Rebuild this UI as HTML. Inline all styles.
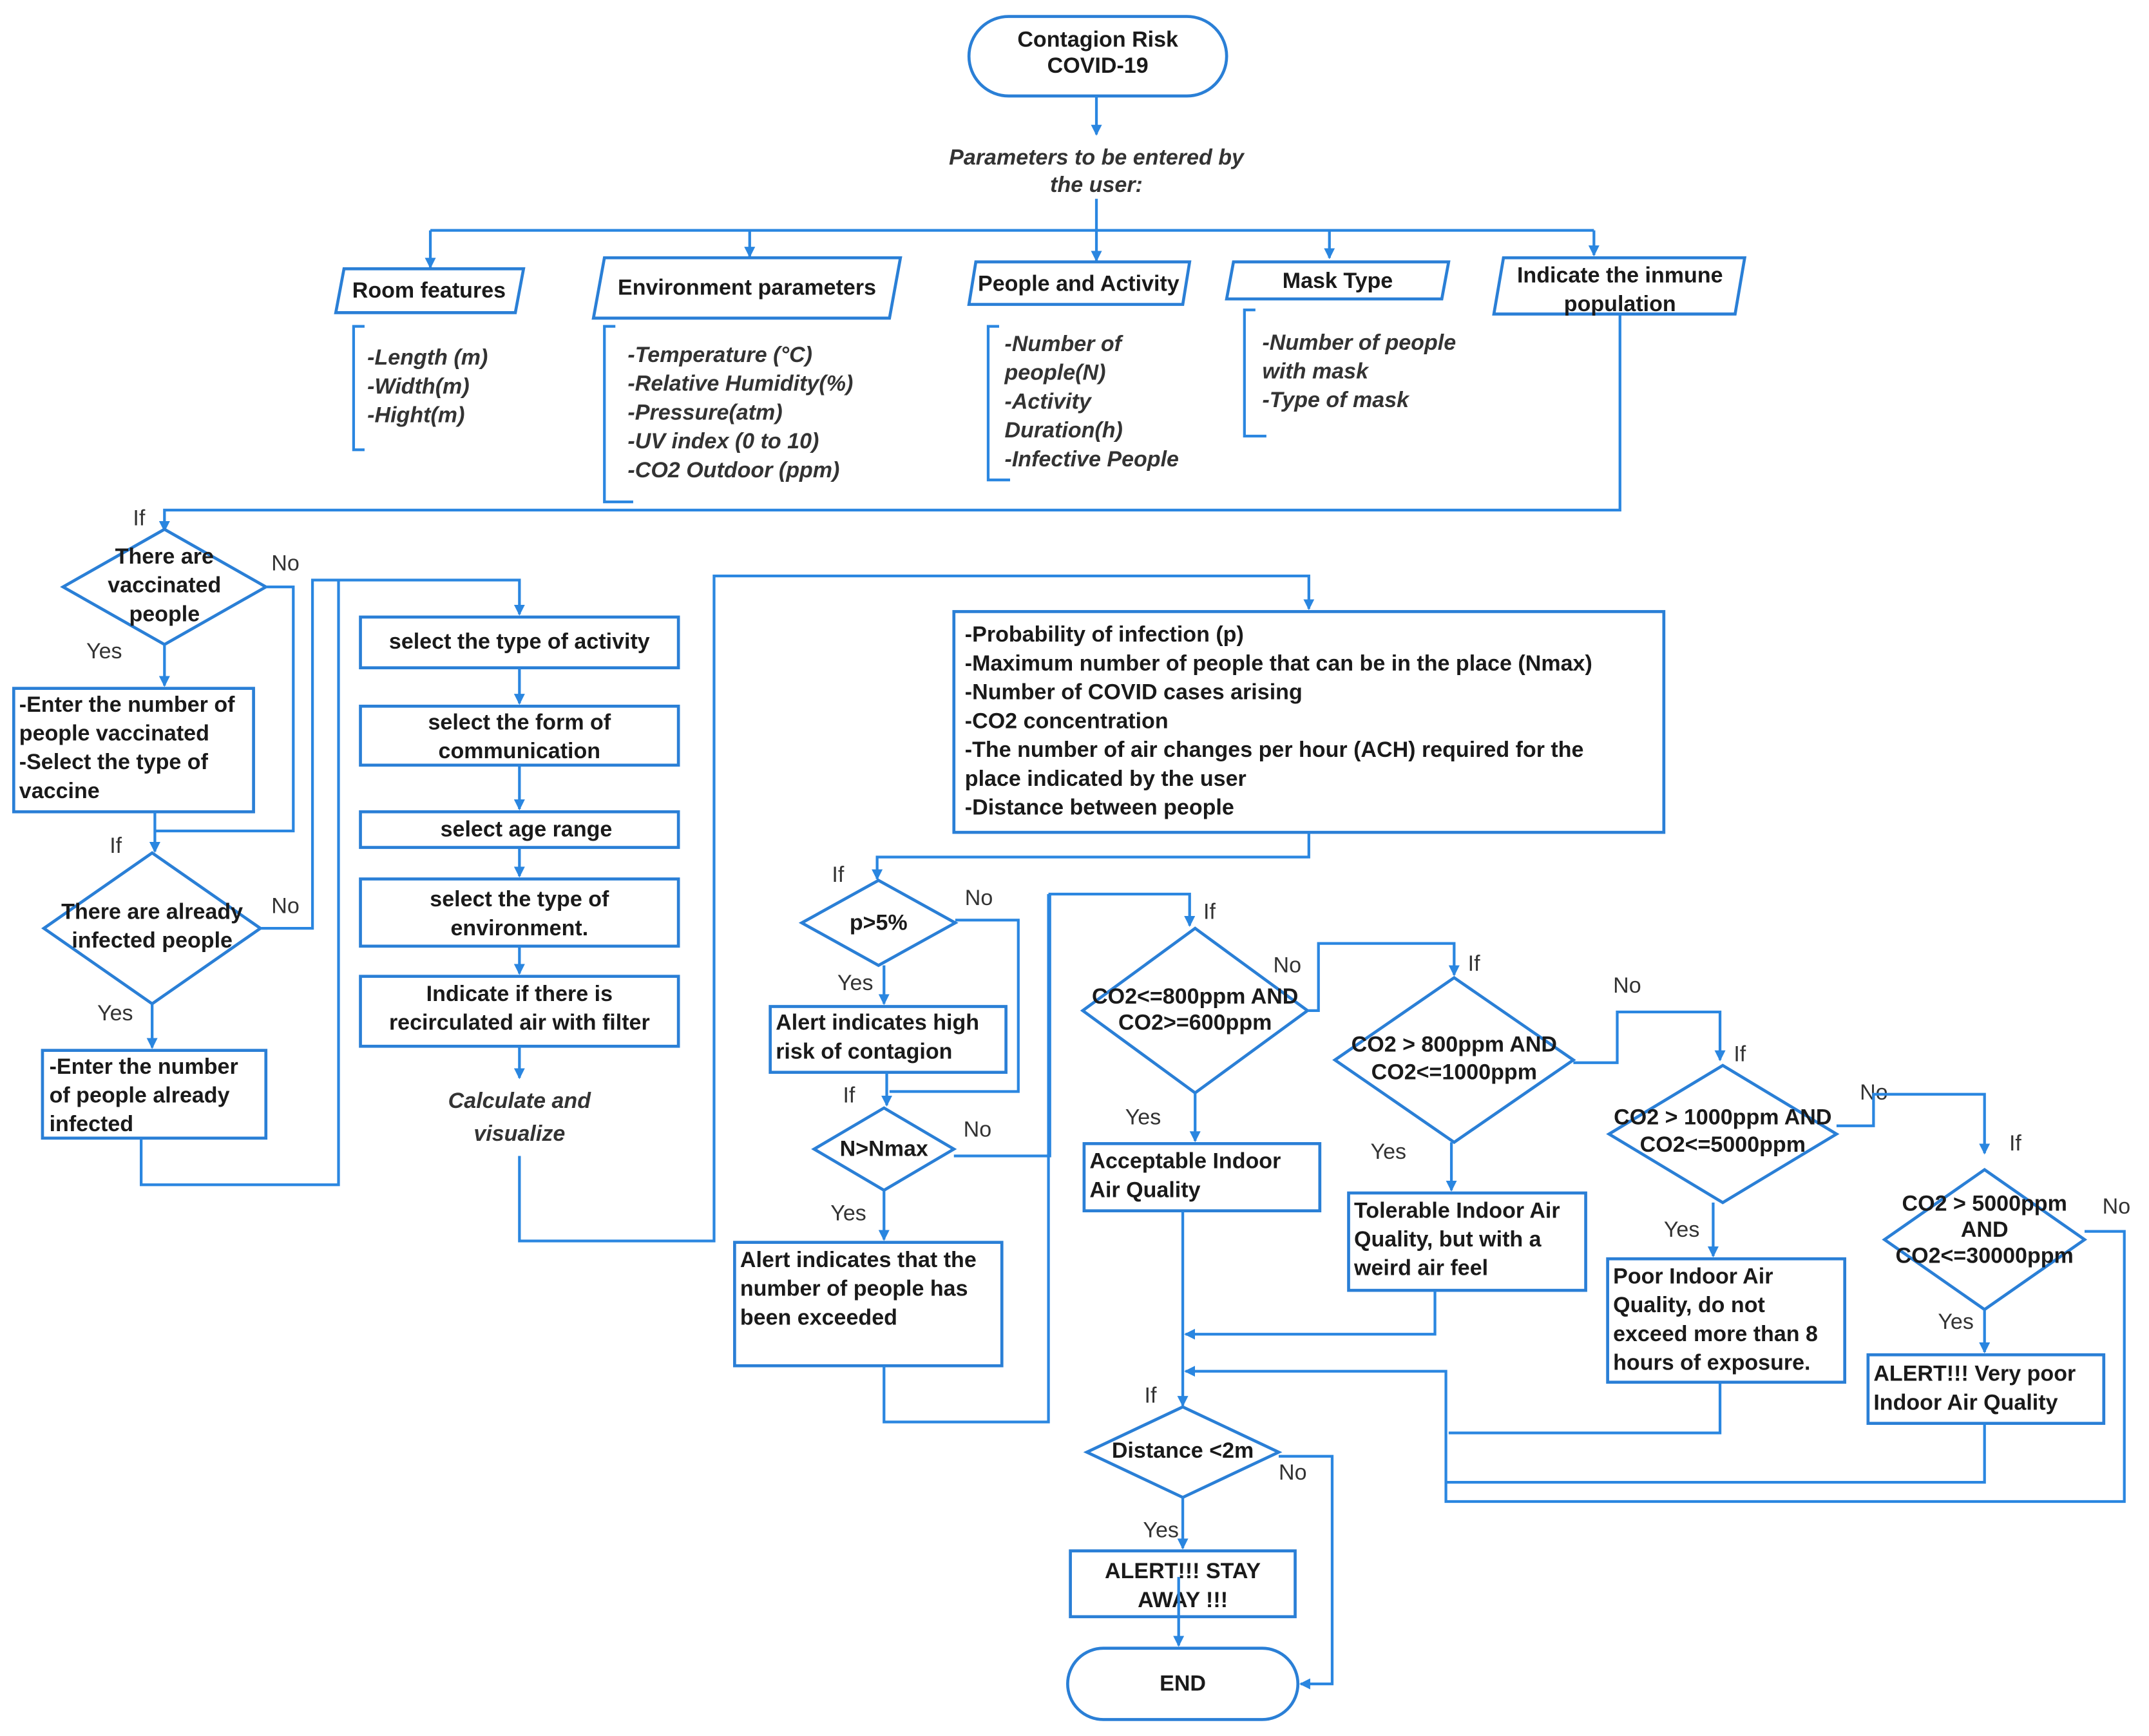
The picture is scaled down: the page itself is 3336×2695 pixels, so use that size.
<!DOCTYPE html>
<html><head><meta charset="utf-8"><style>
html,body{margin:0;padding:0;background:#fff;}
svg{display:block;}
text{font-family:"Liberation Sans",sans-serif;fill:#1a1a1a;}
.b{font-size:16px;font-weight:bold;}
.c{text-anchor:middle;}
.i{font-size:16px;font-style:italic;font-weight:bold;fill:#333;}
.l{font-size:16px;fill:#333;}
.s{fill:none;stroke:#2a86e0;stroke-width:2;}
.n{fill:#fff;stroke:#2a7fd6;stroke-width:2.2;}
</style></head><body>
<svg width="3336" height="2695" viewBox="0 0 1568 1266" preserveAspectRatio="none" xmlns="http://www.w3.org/2000/svg">
<defs><marker id="a" markerWidth="8" markerHeight="8" refX="7" refY="4" orient="auto" markerUnits="userSpaceOnUse"><path d="M0,0 L8,4 L0,8 z" fill="#2a86e0"/></marker></defs>
<rect width="1568" height="1266" fill="#fff"/>

<rect class="n" x="707" y="12" width="188" height="58" rx="29"/>
<text class="b c" x="801" y="34" font-size="15">Contagion Risk</text>
<text class="b c" x="801" y="53" font-size="15">COVID-19</text>
<path class="s" d="M800,70 V98" marker-end="url(#a)"/>
<text class="i c" x="800" y="120">Parameters to be entered by</text>
<text class="i c" x="800" y="140">the user:</text>
<path class="s" d="M800,145 V168 M314,168 H1163"/>
<path class="s" d="M314,168 V195" marker-end="url(#a)"/>
<path class="s" d="M547,168 V187" marker-end="url(#a)"/>
<path class="s" d="M800,168 V190" marker-end="url(#a)"/>
<path class="s" d="M970,168 V188" marker-end="url(#a)"/>
<path class="s" d="M1163,168 V186" marker-end="url(#a)"/>

<polygon class="n" points="251,196 382,196 376,228 245,228"/>
<text class="b c" x="313" y="217">Room features</text>
<polygon class="n" points="441,188 657,188 649,232 433,232"/>
<text class="b c" x="545" y="215">Environment parameters</text>
<polygon class="n" points="712,191 868,191 863,222 707,222"/>
<text class="b c" x="787" y="212">People and Activity</text>
<polygon class="n" points="900,191 1057,191 1052,218 895,218"/>
<text class="b c" x="976" y="210">Mask Type</text>
<polygon class="n" points="1097,188 1273,188 1266,229 1090,229"/>
<text class="b c" x="1182" y="206">Indicate the inmune</text>
<text class="b c" x="1182" y="227">population</text>

<path class="s" d="M266,238 H258 V328 H266"/>
<text class="i" x="268" y="266">-Length (m)</text>
<text class="i" x="268" y="287">-Width(m)</text>
<text class="i" x="268" y="308">-Hight(m)</text>
<path class="s" d="M449,238 H441 V366 H462"/>
<text class="i" x="458" y="264">-Temperature (°C)</text>
<text class="i" x="458" y="285">-Relative Humidity(%)</text>
<text class="i" x="458" y="306">-Pressure(atm)</text>
<text class="i" x="458" y="327">-UV index (0 to 10)</text>
<text class="i" x="458" y="348">-CO2 Outdoor (ppm)</text>
<path class="s" d="M729,238 H721 V350 H737"/>
<text class="i" x="733" y="256">-Number of</text>
<text class="i" x="733" y="277">people(N)</text>
<text class="i" x="733" y="298">-Activity</text>
<text class="i" x="733" y="319">Duration(h)</text>
<text class="i" x="733" y="340">-Infective People</text>
<path class="s" d="M916,226 H908 V318 H924"/>
<text class="i" x="921" y="255">-Number of people</text>
<text class="i" x="921" y="276">with mask</text>
<text class="i" x="921" y="297">-Type of mask</text>

<path class="s" d="M1182,229 V372 H120 V387" marker-end="url(#a)"/>
<text class="l" x="97" y="383">If</text>
<polygon class="n" points="120,386 194,428 120,470 46,428"/>
<text class="b c" x="120" y="411">There are</text>
<text class="b c" x="120" y="432">vaccinated</text>
<text class="b c" x="120" y="453">people</text>
<text class="l" x="198" y="416">No</text>
<path class="s" d="M194,428 H214 V606 H113"/>
<text class="l" x="63" y="480">Yes</text>
<path class="s" d="M120,470 V500" marker-end="url(#a)"/>
<rect class="n" x="10" y="502" width="175" height="90"/>
<text class="b" x="14" y="519">-Enter the number of</text>
<text class="b" x="14" y="540">people vaccinated</text>
<text class="b" x="14" y="561">-Select the type of</text>
<text class="b" x="14" y="582">vaccine</text>
<path class="s" d="M113,592 V621" marker-end="url(#a)"/>
<text class="l" x="80" y="622">If</text>
<polygon class="n" points="111,622 190,677 111,732 32,677"/>
<text class="b c" x="111" y="670">There are already</text>
<text class="b c" x="111" y="691">infected people</text>
<text class="l" x="198" y="666">No</text>
<path class="s" d="M190,677 H228 V423 H379 V448" marker-end="url(#a)"/>
<text class="l" x="71" y="744">Yes</text>
<path class="s" d="M111,732 V764" marker-end="url(#a)"/>
<rect class="n" x="31" y="766" width="163" height="64"/>
<text class="b" x="36" y="783">-Enter the number</text>
<text class="b" x="36" y="804">of people already</text>
<text class="b" x="36" y="825">infected</text>
<path class="s" d="M103,830 V864 H247 V423"/>

<rect class="n" x="263" y="450" width="232" height="37"/>
<text class="b c" x="379" y="473">select the type of activity</text>
<path class="s" d="M379,487 V513" marker-end="url(#a)"/>
<rect class="n" x="263" y="515" width="232" height="43"/>
<text class="b c" x="379" y="532">select the form of</text>
<text class="b c" x="379" y="553">communication</text>
<path class="s" d="M379,558 V590" marker-end="url(#a)"/>
<rect class="n" x="263" y="592" width="232" height="26"/>
<text class="b c" x="384" y="610">select age range</text>
<path class="s" d="M379,618 V639" marker-end="url(#a)"/>
<rect class="n" x="263" y="641" width="232" height="49"/>
<text class="b c" x="379" y="661">select the type of</text>
<text class="b c" x="379" y="682">environment.</text>
<path class="s" d="M379,690 V710" marker-end="url(#a)"/>
<rect class="n" x="263" y="712" width="232" height="51"/>
<text class="b c" x="379" y="730">Indicate if there is</text>
<text class="b c" x="379" y="751">recirculated air with filter</text>
<path class="s" d="M379,763 V786" marker-end="url(#a)"/>
<text class="i c" x="379" y="808" font-size="20">Calculate and</text>
<text class="i c" x="379" y="832" font-size="20">visualize</text>
<path class="s" d="M379,843 V905 H521 V420 H955 V444" marker-end="url(#a)"/>

<rect class="n" x="696" y="446" width="518" height="161"/>
<text class="b" x="704" y="468">-Probability of infection (p)</text>
<text class="b" x="704" y="489">-Maximum number of people that can be in the place (Nmax)</text>
<text class="b" x="704" y="510">-Number of COVID cases arising</text>
<text class="b" x="704" y="531">-CO2 concentration</text>
<text class="b" x="704" y="552">-The number of air changes per hour (ACH) required for the</text>
<text class="b" x="704" y="573">place indicated by the user</text>
<text class="b" x="704" y="594">-Distance between people</text>
<path class="s" d="M955,607 V625 H640 V641" marker-end="url(#a)"/>
<text class="l" x="607" y="643">If</text>

<polygon class="n" points="641,642 697,673 641,704 585,673"/>
<text class="b c" x="641" y="678">p&gt;5%</text>
<text class="l" x="704" y="660">No</text>
<path class="s" d="M697,671 H743 V796 H649"/>
<text class="l" x="611" y="722">Yes</text>
<path class="s" d="M645,704 V732" marker-end="url(#a)"/>
<rect class="n" x="562" y="734" width="172" height="48"/>
<text class="b" x="566" y="751">Alert indicates high</text>
<text class="b" x="566" y="772">risk of contagion</text>
<path class="s" d="M647,782 V806" marker-end="url(#a)"/>
<text class="l" x="615" y="804">If</text>
<polygon class="n" points="645,808 696,838 645,868 594,838"/>
<text class="b c" x="645" y="843">N&gt;Nmax</text>
<text class="l" x="703" y="829">No</text>
<path class="s" d="M696,843 H766 V652 H868 V675" marker-end="url(#a)"/>
<text class="l" x="606" y="890">Yes</text>
<path class="s" d="M645,868 V904" marker-end="url(#a)"/>
<rect class="n" x="536" y="906" width="195" height="90"/>
<text class="b" x="540" y="924">Alert indicates that the</text>
<text class="b" x="540" y="945">number of people has</text>
<text class="b" x="540" y="966">been exceeded</text>
<path class="s" d="M645,996 V1037 H765 V652"/>

<text class="l" x="878" y="670">If</text>
<polygon class="n" points="872,677 954,737 872,797 790,737"/>
<text class="b c" x="872" y="732" font-size="15">CO2&lt;=800ppm  AND</text>
<text class="b c" x="872" y="751" font-size="15">CO2&gt;=600ppm</text>
<text class="l" x="929" y="709">No</text>
<path class="s" d="M954,737 H962 V688 H1061 V711" marker-end="url(#a)"/>
<text class="l" x="821" y="820">Yes</text>
<path class="s" d="M872,797 V832" marker-end="url(#a)"/>
<rect class="n" x="791" y="834" width="172" height="49"/>
<text class="b" x="795" y="852">Acceptable Indoor</text>
<text class="b" x="795" y="873">Air Quality</text>
<path class="s" d="M863,883 V1025" marker-end="url(#a)"/>
<text class="l" x="835" y="1023">If</text>

<text class="l" x="1071" y="708">If</text>
<polygon class="n" points="1061,713 1148,773 1061,833 974,773"/>
<text class="b c" x="1061" y="767" font-size="15">CO2 &gt; 800ppm  AND</text>
<text class="b c" x="1061" y="787" font-size="15">CO2&lt;=1000ppm</text>
<text class="l" x="1177" y="724">No</text>
<path class="s" d="M1148,775 H1180 V738 H1255 V773" marker-end="url(#a)"/>
<text class="l" x="1000" y="845">Yes</text>
<path class="s" d="M1059,833 V868" marker-end="url(#a)"/>
<rect class="n" x="984" y="870" width="173" height="71"/>
<text class="b" x="988" y="888">Tolerable Indoor Air</text>
<text class="b" x="988" y="909">Quality, but with a</text>
<text class="b" x="988" y="930">weird air feel</text>
<path class="s" d="M1047,941 V973 H865" marker-end="url(#a)"/>

<text class="l" x="1265" y="774">If</text>
<polygon class="n" points="1257,777 1340,827 1257,877 1174,827"/>
<text class="b c" x="1257" y="820" font-size="15">CO2 &gt; 1000ppm  AND</text>
<text class="b c" x="1257" y="840" font-size="15">CO2&lt;=5000ppm</text>
<text class="l" x="1357" y="802">No</text>
<path class="s" d="M1340,821 H1367 V798 H1448 V841" marker-end="url(#a)"/>
<text class="l" x="1214" y="902">Yes</text>
<path class="s" d="M1250,877 V916" marker-end="url(#a)"/>
<rect class="n" x="1173" y="918" width="173" height="90"/>
<text class="b" x="1177" y="936">Poor Indoor Air</text>
<text class="b" x="1177" y="957">Quality, do not</text>
<text class="b" x="1177" y="978">exceed more than 8</text>
<text class="b" x="1177" y="999">hours of exposure.</text>
<path class="s" d="M1255,1008 V1045 H1057"/>

<text class="l" x="1466" y="839">If</text>
<polygon class="n" points="1448,853 1521,904 1448,955 1375,904"/>
<text class="b c" x="1448" y="883" font-size="15">CO2 &gt; 5000ppm</text>
<text class="b c" x="1448" y="902" font-size="15">AND</text>
<text class="b c" x="1448" y="921" font-size="15">CO2&lt;=30000ppm</text>
<text class="l" x="1534" y="885">No</text>
<path class="s" d="M1521,898 H1550 V1095 H1055 V1000 H865" marker-end="url(#a)"/>
<text class="l" x="1414" y="969">Yes</text>
<path class="s" d="M1448,955 V986" marker-end="url(#a)"/>
<rect class="n" x="1363" y="988" width="172" height="50"/>
<text class="b" x="1367" y="1007">ALERT!!! Very poor</text>
<text class="b" x="1367" y="1028">Indoor Air Quality</text>
<path class="s" d="M1448,1038 V1081 H1055"/>

<polygon class="n" points="863,1026 933,1059 863,1092 793,1059"/>
<text class="b c" x="863" y="1063">Distance &lt;2m</text>
<text class="l" x="933" y="1079">No</text>
<path class="s" d="M933,1062 H972 V1228 H949" marker-end="url(#a)"/>
<text class="l" x="834" y="1121">Yes</text>
<path class="s" d="M863,1092 V1129" marker-end="url(#a)"/>
<rect class="n" x="781" y="1131" width="164" height="48"/>
<text class="b c" x="863" y="1151">ALERT!!! STAY</text>
<text class="b c" x="863" y="1172">AWAY !!!</text>
<path class="s" d="M860,1150 V1200" marker-end="url(#a)"/>
<rect class="n" x="779" y="1202" width="168" height="52" rx="26"/>
<text class="b c" x="863" y="1233" font-size="19">END</text>
</svg>
</body></html>
